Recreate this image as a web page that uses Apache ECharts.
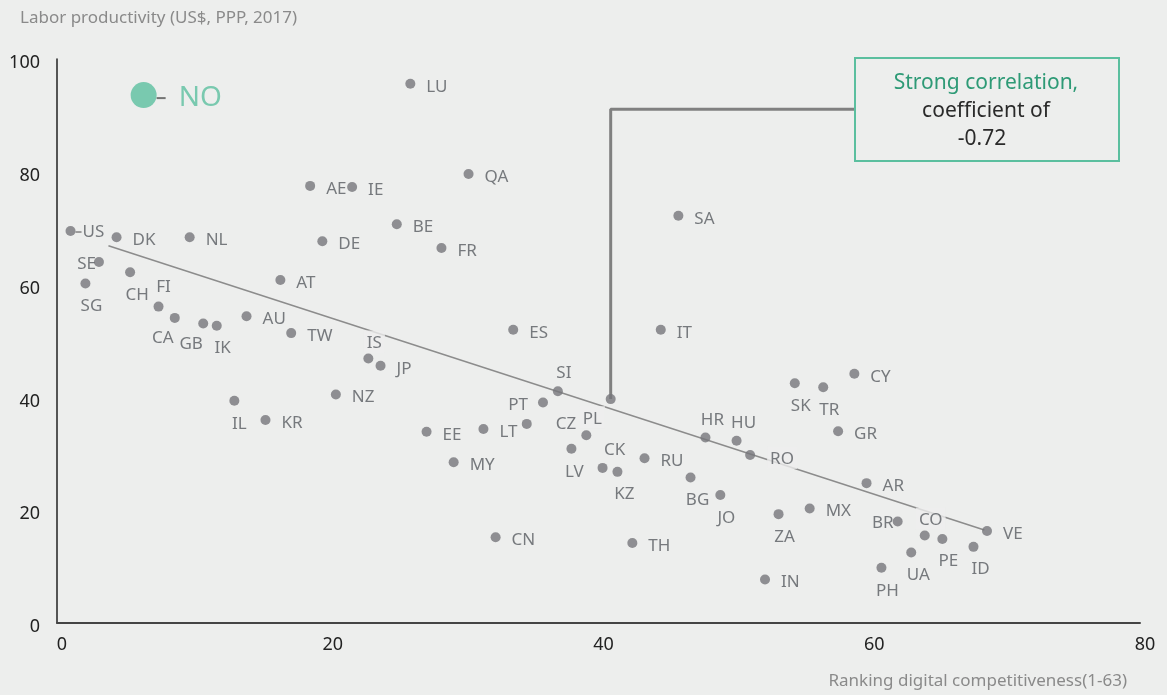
<!DOCTYPE html>
<html>
<head>
<meta charset="utf-8">
<script src="https://cdn.jsdelivr.net/npm/echarts@6/dist/echarts.min.js"></script>
<style>
  html, body { margin: 0; padding: 0; background: #edeeed; }
  #chart { width: 1167px; height: 695px; }
</style>
</head>
<body>
<div id="chart"></div>
<script>
// country codes, digital competitiveness rank (x) and labor productivity (y)
const countries = ['US','DK','NL','DE','SE','CH','SG','AT','FI','CA','GB','IK','AU','TW','IS','JP','NZ','IL','KR',
  'AE','IE','LU','QA','BE','FR','SA','ES','IT','SI','PT','LT','EE','CZ','PL','LV','CK','KZ','RU','BG','MY','CN','TH',
  'CY','SK','TR','GR','HR','HU','RO','JO','AR','MX','ZA','BR','CO','PE','UA','PH','ID','VE','IN'];
const rank = [1, 4.4, 9.8, 19.6, 3.1, 5.4, 2.1, 16.5, 7.5, 8.7, 10.8, 11.8, 14.0, 17.3, 23.0, 23.9, 20.6, 13.1, 15.4,
  18.7, 21.8, 26.1, 30.4, 25.1, 28.4, 45.9, 33.7, 44.6, 37.0, 35.9, 31.5, 27.3, 34.7, 39.1, 38.0, 40.3, 41.4, 43.4, 46.8, 29.3, 32.4, 42.5,
  58.9, 54.5, 56.6, 57.7, 47.9, 50.2, 51.2, 49.0, 59.8, 55.6, 53.3, 62.1, 64.1, 65.4, 63.1, 60.9, 67.7, 68.7, 52.3];
const productivity = [69.5, 68.4, 68.4, 67.7, 64.0, 62.2, 60.2, 60.8, 56.1, 54.1, 53.1, 52.7, 54.4, 51.4, 46.9, 45.6, 40.5, 39.4, 36.0,
  77.5, 77.3, 95.6, 79.6, 70.7, 66.5, 72.2, 52.0, 52.0, 41.1, 39.1, 34.4, 33.9, 35.3, 33.3, 30.9, 27.5, 26.8, 29.2, 25.8, 28.5, 15.2, 14.2,
  44.2, 42.5, 41.8, 34.0, 32.9, 32.3, 29.8, 22.7, 24.8, 20.3, 19.3, 18.0, 15.5, 14.9, 12.5, 9.8, 13.5, 16.3, 7.7];

// Norway highlighted
const noPoint = [6.4, 93.6];
// unlabeled point linked to the callout
const calloutPoint = [40.9, 39.7];
const calloutPath = [[40.9, 39.7], [40.9, 91.1], [58.9, 91.1]];
// trend line ends
const trendLine = [[3.8, 66.9], [68.5, 16.5]];

const xTicks = [0, 20, 40, 60, 80];
const yTicks = [0, 20, 40, 60, 80, 100];

const BG = '#edeeed';
const DOT = '#75767a';
const TXT = '#585b60';
const GREEN = '#5bbf9f';

// label placement: [align, dx, dy]
const R = ['left', 16, 3], B = ['center', 6, 23], T = ['center', 6, -18];
const labelSpec = {
  US: ['left', 5, 1], SE: ['right', -3, 2], PT: ['right', -15, 3], BR: ['right', -4, 2],
  RO: ['left', 17, 3], CZ: ['left', 29, 0],
  CH: ['center', 7, 23], SG: B, CA: ['center', -12, 20], GB: ['center', -12, 21], IK: ['center', 6, 22],
  IL: ['center', 5, 23], LV: ['center', 3, 23], KZ: ['center', 7, 22], BG: ['center', 7, 23], JO: B,
  SK: B, TR: B, ZA: B, PE: ['center', 6, 22], UA: ['center', 7, 23], PH: B, ID: ['center', 7, 22],
  FI: ['center', 5, -19], IS: ['center', 6, -17], SI: T, PL: T, CK: ['center', 12, -18],
  HR: ['center', 7, -17], HU: ['center', 7, -18], CO: ['center', 6, -17]
};
const masked = ['IS', 'RO', 'CO', 'PL'];

const points = countries.map((c, i) => {
  const s = labelSpec[c] || R;
  const lab = { align: s[0], offset: [s[1], s[2]] };
  if (masked.includes(c)) { lab.backgroundColor = BG; lab.padding = [4, 3, 1, 3]; }
  if (c === 'US') lab.formatter = '{d|}{t|US}';
  return { name: c, value: [rank[i], productivity[i]], label: lab };
});

const chart = echarts.init(document.getElementById('chart'));
const font = '"Noto Sans", sans-serif';

chart.setOption({
  backgroundColor: BG,
  animation: false,
  textStyle: { fontFamily: font },
  grid: { left: 57, right: 27, top: 59, bottom: 72 },
  xAxis: {
    type: 'value', min: 0, max: 80, interval: 20,
    axisLine: { lineStyle: { color: '#444', width: 2 } },
    axisTick: { show: false },
    splitLine: { show: false },
    axisLabel: { color: '#222', fontSize: 18, margin: 13, padding: [0, 0, 0, 10],
      formatter: v => xTicks.includes(v) ? String(v) : '' }
  },
  yAxis: {
    type: 'value', min: 0, max: 100, interval: 20,
    axisLine: { show: true, lineStyle: { color: '#222', width: 1.5 } },
    axisTick: { show: false },
    splitLine: { show: false },
    axisLabel: { color: '#222', fontSize: 18, margin: 17, verticalAlign: 'top', lineHeight: 8,
      formatter: v => yTicks.includes(v) ? String(v) : '' }
  },
  series: [
    {
      type: 'line', z: 1, data: trendLine, symbol: 'none', silent: true,
      lineStyle: { color: '#8c8c8c', width: 1.5 }
    },
    {
      type: 'line', z: 2, data: calloutPath, symbol: 'none', silent: true,
      lineStyle: { color: '#808080', width: 3 }
    },
    {
      type: 'scatter', z: 3, symbolSize: 10, data: [calloutPoint],
      itemStyle: { color: DOT }
    },
    {
      type: 'scatter', z: 4, symbolSize: 10,
      itemStyle: { color: DOT },
      label: {
        show: true, position: 'inside', formatter: '{b}', color: TXT, fontSize: 17,
        verticalAlign: 'middle',
        rich: {
          d: { width: 6, height: 1.5, backgroundColor: '#666' },
          t: { color: TXT, fontSize: 17, padding: [0, 0, 0, 1] }
        }
      },
      data: points
    },
    {
      type: 'scatter', z: 5, symbolSize: 26,
      itemStyle: { color: GREEN },
      label: {
        show: true, position: 'inside', align: 'left', offset: [13, 3],
        formatter: '{d|}{t|NO}',
        rich: {
          d: { width: 9, height: 2, backgroundColor: '#555' },
          t: { color: GREEN, fontSize: 28, padding: [0, 0, 0, 13] }
        }
      },
      data: [{ name: 'NO', value: noPoint }]
    }
  ],
  graphic: [
    {
      type: 'text', left: 20, top: 10,
      style: { text: 'Labor productivity (US$, PPP, 2017)', fill: '#8a8a8a', font: '17px ' + font }
    },
    {
      type: 'text', right: 40, top: 673,
      style: { text: 'Ranking digital competitiveness(1-63)', fill: '#8a8a8a', font: '17px ' + font }
    },
    {
      type: 'rect', left: 854, top: 57, z: 10,
      shape: { width: 264, height: 103 },
      style: { fill: BG, stroke: GREEN, lineWidth: 2 }
    },
    {
      type: 'text', z: 11, x: 986, y: 83,
      style: { text: 'Strong correlation,', fill: '#2e9a76', font: '21px ' + font, align: 'center', verticalAlign: 'middle' }
    },
    {
      type: 'text', z: 11, x: 986, y: 111,
      style: { text: 'coefficient of', fill: '#2a2a2a', font: '21px ' + font, align: 'center', verticalAlign: 'middle' }
    },
    {
      type: 'text', z: 11, x: 982, y: 139,
      style: { text: '-0.72', fill: '#2a2a2a', font: '21px ' + font, align: 'center', verticalAlign: 'middle' }
    }
  ]
});
</script>
</body>
</html>
